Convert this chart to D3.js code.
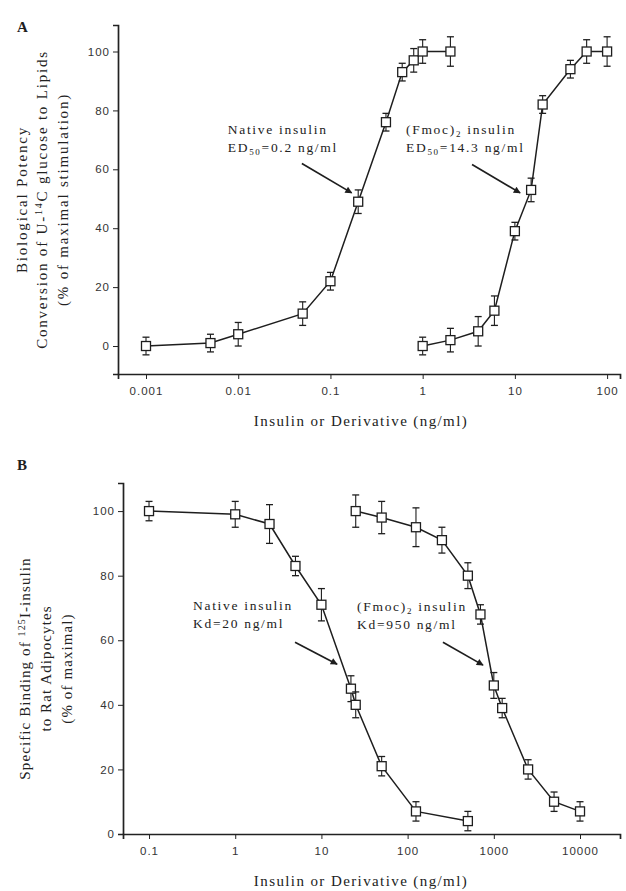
<!DOCTYPE html>
<html>
<head>
<meta charset="utf-8">
<script src="https://cdn.jsdelivr.net/npm/d3@7"></script>
<style>
  body { margin: 0; background: #fff; }
  svg { font-family: "Liberation Serif", "DejaVu Serif", serif; }
  .tick text { font-size: 11.5px; fill: #333; letter-spacing: 1px; }
  .tick line, .domain { stroke: #222; }
</style>
</head>
<body>
<svg id="chart" width="626" height="891"></svg>
<script>
// Panel A: biological potency
const aNativeDose = [0.001, 0.005, 0.01, 0.05, 0.1, 0.2, 0.4, 0.6, 0.8, 1, 2];
const aNativeVal  = [0, 1, 4, 11, 22, 49, 76, 93, 97, 100, 100];
const aNativeErr  = [3, 3, 4, 4, 3, 4, 3, 3, 4, 4, 5];
const aFmocDose = [1, 2, 4, 6, 10, 15, 20, 40, 60, 100];
const aFmocVal  = [0, 2, 5, 12, 39, 53, 82, 94, 100, 100];
const aFmocErr  = [3, 4, 5, 5, 3, 4, 3, 3, 4, 5];
const aXTicks = [0.001, 0.01, 0.1, 1, 10, 100];
const aXLabels = ["0.001", "0.01", "0.1", "1", "10", "100"];
const aYTicks = [0, 20, 40, 60, 80, 100];

// Panel B: receptor binding
const bNativeDose = [0.1, 1, 2.5, 5, 10, 22, 25, 50, 125, 500];
const bNativeVal  = [100, 99, 96, 83, 71, 45, 40, 21, 7, 4];
const bNativeErr  = [3, 4, 6, 3, 5, 4, 4, 3, 3, 3];
const bFmocDose = [25, 50, 125, 250, 500, 700, 1000, 1250, 2500, 5000, 10000];
const bFmocVal  = [100, 98, 95, 91, 80, 68, 46, 39, 20, 10, 7];
const bFmocErr  = [5, 5, 6, 4, 4, 3, 4, 3, 3, 3, 3];
const bXTicks = [0.1, 1, 10, 100, 1000, 10000];
const bXLabels = ["0.1", "1", "10", "100", "1000", "10000"];
const bYTicks = [0, 20, 40, 60, 80, 100];

const ink = "#1e1e1e";
const svg = d3.select("#chart");

svg.append("defs").append("marker")
    .attr("id", "head")
    .attr("viewBox", "0 0 10 10")
    .attr("refX", 9).attr("refY", 5)
    .attr("markerWidth", 10).attr("markerHeight", 7)
    .attr("markerUnits", "userSpaceOnUse")
    .attr("orient", "auto")
    .append("path")
    .attr("d", "M0,0L10,5L0,10z")
    .attr("fill", ink);

function zip(xs, ys, es) {
    return xs.map(function (d, i) { return {x: d, y: ys[i], e: es[i]}; });
}

function panel(cfg) {
    const x = d3.scaleLog().domain(cfg.xDomain).range(cfg.xRange);
    const y = d3.scaleLinear().domain(cfg.yDomain).range(cfg.yRange);
    const g = svg.append("g");

    g.append("g")
        .attr("transform", "translate(0," + cfg.yRange[0] + ")")
        .call(d3.axisBottom(x).tickValues(cfg.xTicks).tickSizeOuter(0).tickSize(5)
            .tickFormat(function (d, i) { return cfg.xLabels[i]; }))
        .call(function (a) {
            a.select(".domain").attr("stroke-width", 1.7);
            a.selectAll(".tick text").attr("dy", "1.15em");
        });

    g.append("g")
        .attr("transform", "translate(" + cfg.xRange[0] + ",0)")
        .call(d3.axisLeft(y).tickValues(cfg.yTicks).tickSizeOuter(0).tickSize(5))
        .call(function (a) {
            a.select(".domain").attr("stroke-width", 1.7);
        });

    // panel letter
    g.append("text")
        .attr("x", cfg.letterPos[0]).attr("y", cfg.letterPos[1])
        .attr("font-size", 15).attr("font-weight", "bold").attr("fill", ink)
        .text(cfg.letter);

    // x title
    g.append("text")
        .attr("x", 361).attr("y", cfg.yRange[0] + 52)
        .attr("text-anchor", "middle").attr("font-size", 15)
        .attr("letter-spacing", 1.4).attr("fill", "#222")
        .text("Insulin or Derivative (ng/ml)");

    // y title lines
    const yMid = (cfg.yRange[0] + cfg.yRange[1]) / 2;
    cfg.yTitle.forEach(function (parts, i) {
        const t = g.append("text")
            .attr("transform", "translate(" + cfg.yTitleX[i] + "," + (yMid + cfg.yTitleShift) + ") rotate(-90)")
            .attr("text-anchor", "middle").attr("font-size", 15)
            .attr("letter-spacing", cfg.yTitleSpacing).attr("fill", "#222");
        parts.forEach(function (p) {
            const s = t.append("tspan").text(p.t);
            if (p.sup) s.attr("font-size", 10).attr("baseline-shift", "super");
        });
    });

    const line = d3.line().x(function (d) { return x(d.x); }).y(function (d) { return y(d.y); });

    cfg.series.forEach(function (data) {
        g.append("path")
            .datum(data)
            .attr("d", line)
            .attr("fill", "none").attr("stroke", ink).attr("stroke-width", 1.5);

        const pt = g.selectAll(null).data(data).enter().append("g")
            .attr("transform", function (d) { return "translate(" + x(d.x) + "," + y(d.y) + ")"; });

        pt.append("line")
            .attr("y1", function (d) { return y(d.y + d.e) - y(d.y); })
            .attr("y2", function (d) { return y(d.y - d.e) - y(d.y); })
            .attr("stroke", ink).attr("stroke-width", 1.1);
        pt.append("line").attr("class", "cap")
            .attr("x1", -3.5).attr("x2", 3.5)
            .attr("y1", function (d) { return y(d.y + d.e) - y(d.y); })
            .attr("y2", function (d) { return y(d.y + d.e) - y(d.y); })
            .attr("stroke", ink).attr("stroke-width", 1.3);
        pt.append("line").attr("class", "cap")
            .attr("x1", -3.5).attr("x2", 3.5)
            .attr("y1", function (d) { return y(d.y - d.e) - y(d.y); })
            .attr("y2", function (d) { return y(d.y - d.e) - y(d.y); })
            .attr("stroke", ink).attr("stroke-width", 1.3);
        pt.append("rect")
            .attr("x", -4.5).attr("y", -4.5).attr("width", 9).attr("height", 9)
            .attr("fill", "#fff").attr("stroke", ink).attr("stroke-width", 1.3);
    });

    // annotations: each line is its own text element
    cfg.notes.forEach(function (n) {
        n.lines.forEach(function (parts, i) {
            const t = g.append("text")
                .attr("x", x(n.tx)).attr("y", y(n.ty) + i * 18)
                .attr("font-size", 13.5).attr("letter-spacing", 1.7).attr("fill", "#222");
            parts.forEach(function (p) {
                const s = t.append("tspan").text(p.t);
                if (p.sub) s.attr("font-size", 9).attr("dy", 3);
                else if (p.back) s.attr("dy", -3);
            });
        });
        g.append("line")
            .attr("x1", x(n.a[0])).attr("y1", y(n.a[1]))
            .attr("x2", x(n.a[2])).attr("y2", y(n.a[3]))
            .attr("stroke", ink).attr("stroke-width", 1.7)
            .attr("marker-end", "url(#head)");
    });
}

panel({
    letter: "A", letterPos: [17, 32],
    xDomain: [0.000497, 138], xRange: [118, 620],
    yDomain: [-9.5, 109], yRange: [374, 25],
    xTicks: aXTicks, xLabels: aXLabels, yTicks: aYTicks,
    yTitle: [
        [{t: "Biological Potency"}],
        [{t: "Conversion of U-"}, {t: "14", sup: true}, {t: "C glucose to Lipids"}],
        [{t: "(% of maximal stimulation)"}]
    ],
    yTitleX: [27, 47, 68], yTitleShift: 0, yTitleSpacing: 1.8,
    series: [zip(aNativeDose, aNativeVal, aNativeErr), zip(aFmocDose, aFmocVal, aFmocErr)],
    notes: [
        {tx: 0.0077, ty: 72, lines: [[{t: "Native  insulin"}], [{t: "ED"}, {t: "50", sub: true}, {t: "=0.2 ng/ml", back: true}]],
         a: [0.049, 62, 0.17, 52]},
        {tx: 0.66, ty: 72, lines: [[{t: "(Fmoc)"}, {t: "2", sub: true}, {t: "  insulin", back: true}], [{t: "ED"}, {t: "50", sub: true}, {t: "=14.3 ng/ml", back: true}]],
         a: [3.43, 61.6, 11.4, 52]}
    ]
});

panel({
    letter: "B", letterPos: [17, 470],
    xDomain: [0.0499, 29100], xRange: [123, 620],
    yDomain: [0, 108.7], yRange: [834, 483],
    xTicks: bXTicks, xLabels: bXLabels, yTicks: bYTicks,
    yTitle: [
        [{t: "Specific Binding of "}, {t: "125", sup: true}, {t: "I-insulin"}],
        [{t: "to Rat Adipocytes"}],
        [{t: "(% of maximal)"}]
    ],
    yTitleX: [30, 51, 72], yTitleShift: 10, yTitleSpacing: 1.1,
    series: [zip(bNativeDose, bNativeVal, bNativeErr), zip(bFmocDose, bFmocVal, bFmocErr)],
    notes: [
        {tx: 0.324, ty: 69.5, lines: [[{t: "Native  insulin"}], [{t: "Kd=20 ng/ml"}]],
         a: [4.94, 59.4, 15.2, 52.6]},
        {tx: 25.9, ty: 69, lines: [[{t: "(Fmoc)"}, {t: "2", sub: true}, {t: "  insulin", back: true}], [{t: "Kd=950 ng/ml"}]],
         a: [257, 59.4, 750, 52.3]}
    ]
});
</script>
</body>
</html>
